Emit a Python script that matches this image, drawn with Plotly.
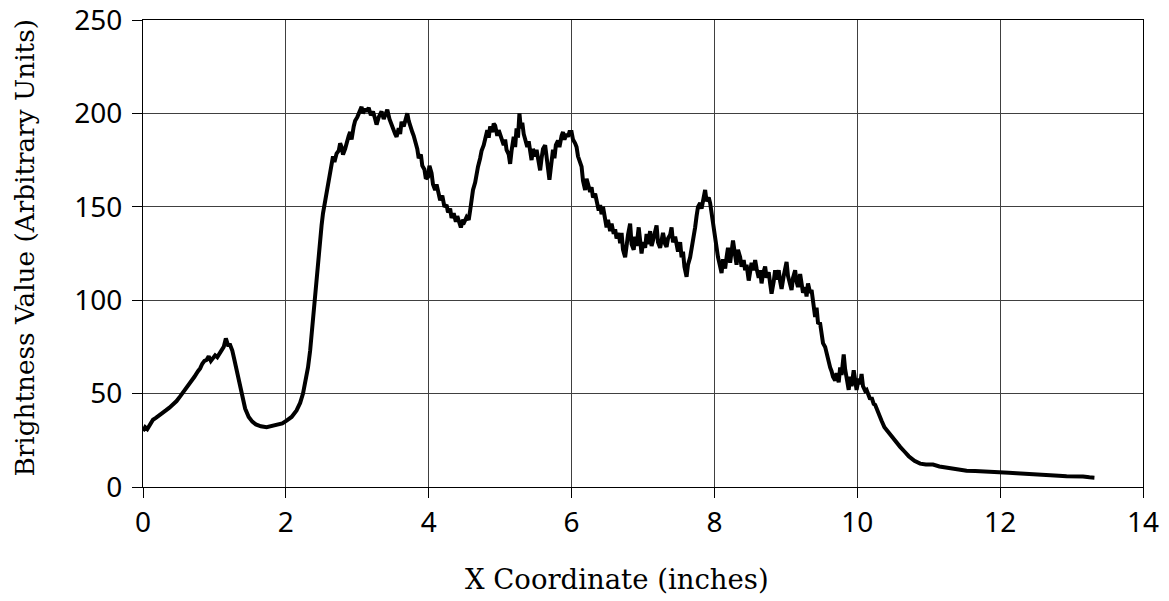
import plotly.graph_objects as go

x_in = [0.00, 0.03, 0.06, 0.10, 0.14, 0.18, 0.22, 0.27, 0.32, 0.37, 0.42, 0.47, 0.52, 0.57, 0.62, 0.67, 0.72, 0.77, 0.80, 0.83, 0.86, 0.89, 0.92, 0.95, 0.98, 1.01, 1.04, 1.07, 1.10, 1.13, 1.16, 1.19, 1.22, 1.25,
        1.28, 1.31, 1.35, 1.39, 1.43, 1.48, 1.53, 1.58, 1.65, 1.73, 1.80, 1.87, 1.95, 2.01, 2.08, 2.15, 2.20, 2.24, 2.28, 2.31, 2.34, 2.36, 2.39, 2.41, 2.43, 2.45, 2.48, 2.50, 2.52, 2.55, 2.57, 2.60, 2.62,
        2.64, 2.66, 2.68, 2.71, 2.74, 2.76, 2.78, 2.80, 2.83, 2.86, 2.88, 2.90, 2.92, 2.95, 2.97, 3.00, 3.03, 3.06, 3.08, 3.11, 3.13, 3.16, 3.19, 3.22, 3.25, 3.27, 3.30, 3.32, 3.34, 3.37, 3.40, 3.42, 3.45, 3.48, 3.50, 3.53, 3.55, 3.58, 3.60, 3.62, 3.65, 3.68, 3.70, 3.72, 3.74, 3.77, 3.79, 3.81, 3.84, 3.86, 3.89, 3.91, 3.94, 3.96, 3.99,
        4.01, 4.04, 4.06, 4.09, 4.11, 4.14, 4.16, 4.19, 4.22, 4.25, 4.27, 4.30, 4.32, 4.35, 4.38, 4.40, 4.43, 4.45, 4.48, 4.50, 4.53, 4.56, 4.58, 4.60, 4.62, 4.65, 4.67, 4.69, 4.72, 4.74, 4.77, 4.79, 4.82, 4.84, 4.86, 4.89, 4.91, 4.93, 4.96, 4.98,
        5.00, 5.03, 5.05, 5.07, 5.09, 5.12, 5.14, 5.16, 5.19, 5.21, 5.23, 5.25, 5.27, 5.29, 5.31, 5.33, 5.35, 5.38, 5.40, 5.42, 5.44, 5.46, 5.49, 5.51, 5.53, 5.56, 5.58, 5.60, 5.63, 5.65, 5.67, 5.69, 5.71, 5.74, 5.76, 5.78, 5.81, 5.83, 5.86, 5.88, 5.90, 5.93, 5.95, 5.97,
        6.00, 6.02, 6.05, 6.07, 6.09, 6.12, 6.14, 6.16, 6.19, 6.21, 6.23, 6.26, 6.28, 6.30, 6.33, 6.35, 6.38, 6.40, 6.42, 6.44, 6.47, 6.49, 6.51, 6.54, 6.56, 6.59, 6.61, 6.63, 6.66, 6.68, 6.70, 6.72, 6.75, 6.77, 6.79, 6.82, 6.84, 6.87, 6.89, 6.91, 6.94, 6.96, 6.98,
        7.00, 7.03, 7.05, 7.07, 7.10, 7.12, 7.14, 7.17, 7.19, 7.21, 7.24, 7.26, 7.28, 7.31, 7.33, 7.35, 7.38, 7.40, 7.42, 7.45, 7.47, 7.49, 7.52, 7.54, 7.56, 7.58, 7.61, 7.63, 7.66, 7.68, 7.70, 7.73, 7.75, 7.77, 7.80, 7.82, 7.85, 7.87, 7.89, 7.92, 7.94, 7.96, 7.98,
        8.01, 8.03, 8.05, 8.08, 8.10, 8.12, 8.15, 8.17, 8.19, 8.22, 8.24, 8.26, 8.29, 8.31, 8.33, 8.36, 8.38, 8.41, 8.43, 8.45, 8.48, 8.50, 8.52, 8.55, 8.57, 8.59, 8.62, 8.64, 8.66, 8.68, 8.71, 8.73, 8.76, 8.78, 8.80, 8.83, 8.85, 8.87, 8.90, 8.92, 8.94, 8.97, 8.99,
        9.01, 9.03, 9.06, 9.08, 9.10, 9.13, 9.15, 9.17, 9.20, 9.22, 9.24, 9.27, 9.29, 9.31, 9.34, 9.36, 9.38, 9.41, 9.43, 9.45, 9.48, 9.50, 9.52, 9.55, 9.57, 9.59, 9.62, 9.64, 9.66, 9.69, 9.71, 9.74, 9.76, 9.78, 9.81, 9.83, 9.85, 9.88, 9.90, 9.92, 9.95, 9.97, 9.99,
        10.02, 10.04, 10.06, 10.08, 10.11, 10.13, 10.16, 10.18, 10.20, 10.23, 10.25, 10.28, 10.30, 10.34, 10.38, 10.42, 10.46, 10.50, 10.55, 10.60, 10.66, 10.72, 10.80, 10.88, 10.96,
        11.06, 11.15, 11.22, 11.30, 11.40, 11.53, 11.65, 11.76, 11.88, 12.00, 12.12, 12.23, 12.35, 12.46, 12.58, 12.70, 12.82, 12.93, 13.05, 13.16, 13.25, 13.32]

brightness = [30, 32, 31, 34, 36, 37, 38, 39.5, 41, 42.5, 44, 46, 48.5, 51, 53.5, 56, 59, 62, 63.5, 66, 67.5, 68, 70, 67.5, 69, 70.5, 69.5, 71.5, 73, 75, 79.5, 76, 76, 73,
              68, 63, 55, 48, 42, 37.5, 35, 33.5, 32.5, 32, 32.5, 33, 34, 35.5, 37.5, 41, 45, 50, 57, 64, 73, 82, 92, 100, 112, 122, 133, 140, 146.5, 153, 159, 165, 168,
              175, 177, 174, 178.5, 180, 184, 182, 178, 181, 186, 188, 190, 186, 193, 196, 198, 201, 203.5, 200, 202.5, 201, 203, 199, 201, 197, 194, 198, 200, 201, 197, 200, 202, 197, 194, 191, 189, 187.5, 192, 189, 195.5, 193, 198, 200, 196, 193, 190, 188, 185.5, 181, 176, 178, 172, 170, 165, 166,
              172, 168, 162, 159, 162, 155, 153.5, 156, 150, 151, 147, 149, 144, 146.5, 142, 145, 140, 139, 143, 142, 144.5, 143, 148, 153.5, 159, 163, 169.5, 171.5, 176, 180, 183, 185.5, 191, 187, 193, 190, 194.5, 193.5, 188, 191,
              188.5, 185, 183, 186, 180.5, 178, 173, 180, 187.5, 182, 192, 187, 200, 192, 195, 189, 186, 182, 185, 178, 175, 181, 177, 180.5, 176, 169.5, 176, 181, 183, 176, 172, 164.5, 171, 180.5, 176, 183, 185.5, 182, 188, 190, 186, 189, 187.5, 190,
              190, 186, 184, 182, 177, 174, 171.5, 164, 159, 165, 162, 158, 160.5, 155, 157, 153.5, 148, 151, 146, 150, 141, 139, 143, 137, 141, 135.5, 138, 133, 136, 130.5, 136, 127, 123, 131, 135, 141, 130, 127, 134, 129, 139, 132, 125,
              131, 128, 135.5, 130, 137, 129, 132, 136, 140, 131, 128, 132, 136, 130, 128.5, 133, 135, 139, 131, 134, 128.5, 126, 131, 123, 126, 118, 112.5, 119, 123, 127, 132, 139, 145, 150, 152, 149, 155, 159, 153, 155, 152, 146, 141,
              134, 128.5, 123, 118, 114.5, 122, 117, 123, 128, 120, 126, 132, 124, 119, 127, 123, 118, 121.5, 116, 119, 110.5, 114, 120, 116, 121.5, 117, 112, 116, 109, 114, 118, 112, 115, 109, 103.5, 110, 116, 111, 116, 110, 106, 113, 117,
              120.5, 113, 108, 105.5, 112, 116, 110, 107, 114, 110, 104, 107, 102, 109, 104, 105.5, 100, 91, 96, 88, 87.5, 83, 77, 75, 72, 67, 64, 62, 59, 57, 61, 56, 64, 60, 71, 63, 57, 52, 59, 54, 62.5, 56, 52,
              58, 55, 60.5, 54, 51.5, 52, 49, 47, 48, 44.5, 44, 41, 38, 35.5, 32, 30, 28.5, 26, 23.5, 21.5, 19, 16.5, 14, 12.5, 12,
              12, 11, 10.5, 10, 9.5, 8.7, 8.5, 8.2, 7.8, 7.5, 7.6, 7.4, 7.2, 7.0, 6.6, 6.3, 6.0, 5.7, 5.8, 5.6, 5.2, 5.0]

x_ticks = [0, 2, 4, 6, 8, 10, 12, 14]
y_ticks = [0, 50, 100, 150, 200, 250]

fig = go.Figure()
fig.add_trace(go.Scatter(x=x_in, y=brightness, mode="lines",
                         line=dict(color="black", width=4), showlegend=False))

tick_font = dict(family="Noto Sans", size=28, color="black")

fig.update_layout(
    width=1169, height=601,
    margin=dict(l=143, r=26, t=20, b=114, autoexpand=False),
    paper_bgcolor="white", plot_bgcolor="white",
    xaxis=dict(range=[0, 14], tickvals=x_ticks, ticktext=[str(v) for v in x_ticks],
               showgrid=True, gridcolor="#404040", gridwidth=1,
               showline=True, linecolor="black", linewidth=1, mirror=True,
               ticks="outside", ticklen=10, tickcolor="black", ticklabeloverflow="allow",
               automargin=False, tickfont=tick_font, zeroline=False),
    yaxis=dict(range=[0, 250], tickvals=y_ticks, ticktext=[str(v) for v in y_ticks],
               showgrid=True, gridcolor="#404040", gridwidth=1,
               showline=True, linecolor="black", linewidth=1, mirror=True,
               ticks="outside", ticklen=10, tickcolor="black", ticklabelstandoff=4,
               ticklabeloverflow="allow", automargin=False,
               tickfont=tick_font, zeroline=False),
    annotations=[
        dict(text="X Coordinate (inches)", xref="paper", yref="paper", x=0.4735, y=0,
             xanchor="center", yanchor="middle", yshift=-92, showarrow=False,
             font=dict(family="DejaVu Serif", size=27.5, color="black")),
        dict(text="Brightness Value (Arbitrary Units)", xref="paper", yref="paper", x=0, y=0.5126,
             xanchor="center", yanchor="middle", xshift=-118, textangle=-90, showarrow=False,
             font=dict(family="DejaVu Serif", size=26.3, color="black")),
    ],
)

fig.write_html("out.html", config={"displayModeBar": False},
               post_script="document.body.style.margin='0';")
